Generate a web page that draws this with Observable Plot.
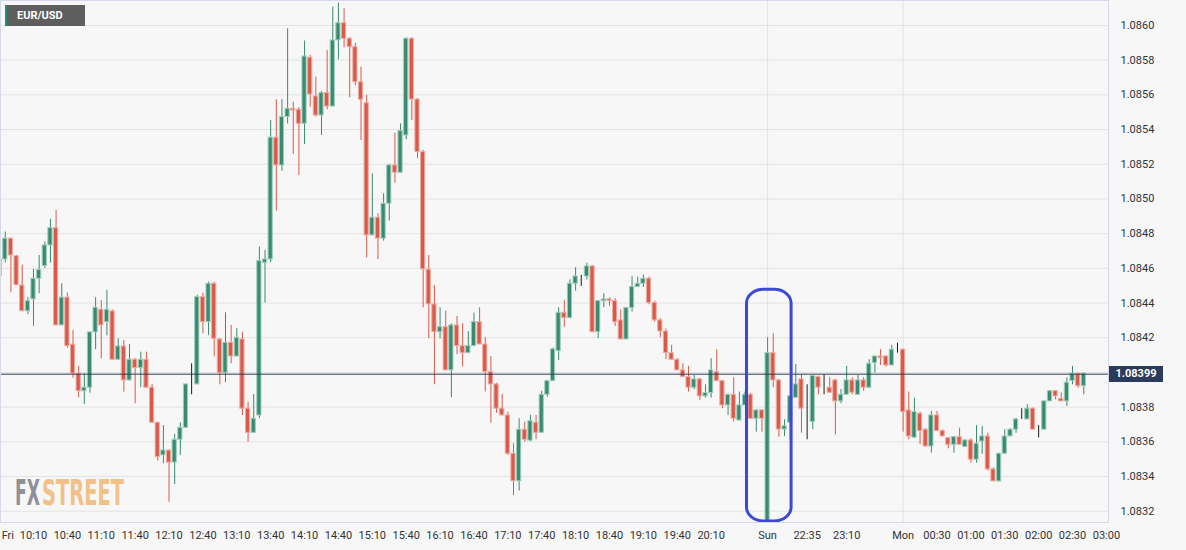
<!DOCTYPE html>
<html><head><meta charset="utf-8">
<script src="https://cdn.jsdelivr.net/npm/d3@7"></script>
<script src="https://cdn.jsdelivr.net/npm/@observablehq/plot@0.6"></script>
<style>
html,body{margin:0;padding:0;background:#f7f7f7;}
#wrap{position:relative;width:1186px;height:550px;overflow:hidden;background:#f7f7f7;font-family:Roboto,"Liberation Sans",sans-serif;}
#wrap svg{display:block;}
.ov{position:absolute;box-sizing:border-box;}
</style></head><body><div id="wrap"></div>
<script>
// 5-minute candles, first one is index -6 (09:40 Fri); index 0 = 10:10
const firstIndex = -6;
const opens = [
1.084553,1.084651,1.084771,1.084670,1.084501,1.084353,1.084421,1.084540,1.084613,1.084732,
1.084832,1.084271,1.084431,1.084160,1.083993,1.083892,1.083912,1.084231,1.084361,1.084290,
1.084352,1.084073,1.084150,1.083954,1.084073,1.084025,1.084073,1.083912,1.083710,1.083522,
1.083550,1.083480,1.083612,1.083681,1.083931,1.083931,1.084434,1.084290,1.084511,1.084190,
1.083996,1.084171,1.084092,1.084190,1.083791,1.083652,1.083752,1.084632,1.084651,1.085353,
1.085193,1.085472,1.085520,1.085514,1.085433,1.085814,1.085591,1.085481,1.085610,1.085533,
1.085914,1.086013,1.085923,1.085875,1.085673,1.085552,1.084790,1.084892,1.084771,1.084972,
1.085193,1.085151,1.085366,1.085923,1.085573,1.085270,1.084592,1.084392,1.084232,1.084261,
1.084012,1.084271,1.084152,1.084111,1.084152,1.084290,1.084161,1.084002,1.083931,1.083791,
1.083752,1.083531,1.083373,1.083670,1.083607,1.083710,1.083652,1.083871,1.083950,1.084123,
1.084344,1.084313,1.084511,1.084553,1.084553,1.084611,1.084232,1.084411,1.084421,1.084411,
1.084300,1.084190,1.084371,1.084492,1.084511,1.084540,1.084400,1.084300,1.084236,1.084111,
1.084073,1.084012,1.083973,1.083912,1.083960,1.083862,1.083881,1.084002,1.083950,1.083810,
1.083871,1.083723,1.083810,1.083871,1.083733,1.083781,1.083130,1.084111,1.083954,1.083671,
1.083710,1.083854,1.083960,1.083768,1.083714,1.083973,1.083910,1.083912,1.083954,1.083833,
1.083871,1.083954,1.083871,1.083954,1.083912,1.084054,1.084092,1.084092,1.084040,1.084127,
1.084131,1.083781,1.083624,1.083762,1.083670,1.083573,1.083752,1.083662,1.083621,1.083583,
1.083627,1.083570,1.083608,1.083497,1.083602,1.083631,1.083441,1.083372,1.083531,1.083631,
1.083670,1.083729,1.083729,1.083791,1.083670,1.083670,1.083833,1.083892,1.083848,1.083833,
1.083950,1.083993,1.083921,1.083990];
const highs = [
1.084650,1.084809,1.084775,1.084675,1.084617,1.084431,1.084594,1.084674,1.084751,1.084882,
1.084934,1.084511,1.084459,1.084242,1.084035,1.083993,1.084231,1.084431,1.084415,1.084473,
1.084360,1.084194,1.084184,1.084161,1.084080,1.084117,1.084117,1.083931,1.083710,1.083694,
1.083550,1.083643,1.083710,1.083931,1.084050,1.084445,1.084457,1.084520,1.084520,1.084194,
1.084344,1.084271,1.084252,1.084232,1.083829,1.083873,1.084722,1.084703,1.085452,1.085572,
1.085572,1.085981,1.085558,1.085526,1.085910,1.085827,1.085702,1.085620,1.085856,1.086106,
1.086129,1.086096,1.085930,1.085898,1.085760,1.085597,1.085145,1.084915,1.085030,1.085200,
1.085379,1.085433,1.085930,1.085930,1.085580,1.085280,1.084674,1.084501,1.084373,1.084353,
1.084280,1.084323,1.084281,1.084236,1.084342,1.084373,1.084200,1.084092,1.083938,1.083873,
1.083771,1.083589,1.083733,1.083714,1.083752,1.083752,1.083892,1.083955,1.084140,1.084373,
1.084415,1.084534,1.084604,1.084560,1.084630,1.084615,1.084415,1.084454,1.084430,1.084425,
1.084361,1.084375,1.084553,1.084549,1.084562,1.084550,1.084410,1.084310,1.084250,1.084156,
1.084080,1.084050,1.084035,1.083983,1.083965,1.083929,1.084079,1.084131,1.083955,1.083875,
1.083969,1.083887,1.083887,1.083880,1.083785,1.083785,1.084200,1.084223,1.083960,1.083727,
1.083862,1.084046,1.083988,1.083929,1.083980,1.083979,1.083988,1.083969,1.083960,1.083902,
1.084035,1.083969,1.083983,1.083969,1.084073,1.084095,1.084131,1.084095,1.084156,1.084169,
1.084135,1.083887,1.083852,1.083771,1.083675,1.083775,1.083775,1.083670,1.083625,1.083630,
1.083679,1.083610,1.083618,1.083694,1.083689,1.083650,1.083450,1.083535,1.083670,1.083675,
1.083735,1.083791,1.083814,1.083795,1.083694,1.083835,1.083895,1.083895,1.083883,1.083969,
1.084035,1.083995,1.083995,1.083990];
const lows = [
1.084473,1.084632,1.084459,1.084500,1.084350,1.084333,1.084267,1.084454,1.084600,1.084630,
1.084271,1.084270,1.084140,1.083967,1.083854,1.083816,1.083881,1.084131,1.084079,1.084211,
1.084070,1.084070,1.083886,1.083950,1.083820,1.083912,1.083910,1.083710,1.083489,1.083474,
1.083252,1.083354,1.083522,1.083680,1.083871,1.083930,1.084223,1.084213,1.084090,1.083929,
1.083941,1.084050,1.084090,1.083752,1.083598,1.083650,1.083733,1.084400,1.084632,1.084930,
1.085160,1.085433,1.085256,1.085135,1.085314,1.085529,1.085472,1.085366,1.085514,1.085530,
1.085802,1.085871,1.085583,1.085654,1.085337,1.084661,1.084790,1.084650,1.084757,1.084872,
1.085091,1.085150,1.085341,1.085452,1.085232,1.084373,1.084194,1.083929,1.084194,1.084010,
1.083854,1.084102,1.084031,1.084110,1.084150,1.084160,1.083887,1.083708,1.083765,1.083750,
1.083522,1.083291,1.083316,1.083598,1.083600,1.083612,1.083650,1.083858,1.083950,1.084069,
1.084261,1.084310,1.084469,1.084496,1.084534,1.084230,1.084194,1.084373,1.084380,1.084265,
1.084190,1.084190,1.084348,1.084490,1.084490,1.084390,1.084290,1.084200,1.084073,1.084070,
1.084010,1.083970,1.083887,1.083900,1.083839,1.083852,1.083852,1.083950,1.083791,1.083752,
1.083714,1.083720,1.083810,1.083730,1.083656,1.083656,1.083130,1.083912,1.083627,1.083631,
1.083612,1.083850,1.083650,1.083612,1.083670,1.083871,1.083871,1.083880,1.083640,1.083820,
1.083870,1.083871,1.083870,1.083892,1.083910,1.083996,1.084040,1.084031,1.084040,1.084111,
1.083656,1.083612,1.083620,1.083585,1.083570,1.083535,1.083660,1.083630,1.083560,1.083535,
1.083580,1.083570,1.083477,1.083477,1.083527,1.083431,1.083370,1.083370,1.083530,1.083630,
1.083650,1.083729,1.083729,1.083670,1.083623,1.083670,1.083833,1.083843,1.083833,1.083804,
1.083929,1.083910,1.083871,1.083990];
const closes = [
1.084650,1.084771,1.084674,1.084503,1.084353,1.084411,1.084540,1.084590,1.084732,1.084832,
1.084271,1.084431,1.084152,1.083993,1.083892,1.083912,1.084231,1.084373,1.084271,1.084361,
1.084073,1.084150,1.083954,1.084073,1.084025,1.084073,1.083912,1.083710,1.083512,1.083550,
1.083480,1.083612,1.083681,1.083931,1.083931,1.084434,1.084290,1.084511,1.084194,1.083996,
1.084171,1.084092,1.084200,1.083791,1.083652,1.083733,1.084642,1.084651,1.085353,1.085193,
1.085472,1.085520,1.085510,1.085433,1.085821,1.085602,1.085481,1.085610,1.085533,1.085914,
1.086013,1.085923,1.085875,1.085673,1.085572,1.084790,1.084892,1.084771,1.084972,1.085193,
1.085151,1.085391,1.085923,1.085573,1.085270,1.084594,1.084392,1.084232,1.084261,1.084012,
1.084271,1.084152,1.084111,1.084152,1.084290,1.084161,1.084002,1.083931,1.083791,1.083752,
1.083531,1.083373,1.083670,1.083612,1.083719,1.083652,1.083871,1.083950,1.084133,1.084344,
1.084313,1.084511,1.084553,1.084553,1.084611,1.084232,1.084411,1.084421,1.084411,1.084290,
1.084190,1.084371,1.084492,1.084511,1.084540,1.084400,1.084300,1.084236,1.084111,1.084073,
1.084012,1.083973,1.083912,1.083960,1.083862,1.083881,1.084012,1.083950,1.083810,1.083871,
1.083733,1.083810,1.083871,1.083733,1.083781,1.083733,1.084111,1.083954,1.083671,1.083690,
1.083862,1.083931,1.083791,1.083768,1.083979,1.083912,1.083910,1.083883,1.083833,1.083871,
1.083954,1.083883,1.083954,1.083912,1.084050,1.084092,1.084082,1.084040,1.084131,1.084127,
1.083771,1.083631,1.083771,1.083662,1.083573,1.083752,1.083662,1.083631,1.083583,1.083627,
1.083583,1.083608,1.083497,1.083589,1.083631,1.083441,1.083372,1.083531,1.083631,1.083670,
1.083729,1.083729,1.083791,1.083670,1.083670,1.083833,1.083892,1.083862,1.083833,1.083941,
1.083993,1.083921,1.083993,1.083990];

const lastPrice = 1.08399;
const gridPrices = [1.0832,1.0834,1.0836,1.0838,1.0840,1.0842,1.0844,1.0846,1.0848,1.0850,1.0852,1.0854,1.0856,1.0858,1.0860];
// 1.0840 label sits under the last-price tag in the reference, so it is not printed
const priceTickLabels = [1.0832,1.0834,1.0836,1.0838,1.0842,1.0844,1.0846,1.0848,1.0850,1.0852,1.0854,1.0856,1.0858,1.0860];
const timeTickIndex = [-4.55,0,6,12,18,24,30,36,42,48,54,60,66,72,78,84,90,96,102,108,114,120,130,137,144,154,160,166,172,178,184,190];
const timeTickLabels = ["Fri","10:10","10:40","11:10","11:40","12:10","12:40","13:10","13:40","14:10","14:40","15:10","15:40","16:10","16:40","17:10","17:40","18:10","18:40","19:10","19:40","20:10","Sun","22:35","23:10","Mon","00:30","01:00","01:30","02:00","02:30","03:00"];
const dayBreakIndex = [130, 154];
const highlight = [{x1: 126.35, x2: 134.25, y1: 1.083141, y2: 1.084476}];

const G = "#388a71", GL = "#9fcdbb", R = "#d85a4a", RL = "#efaba2", K = "#1c1c1c";
const bars = opens.map((o, k) => ({i: firstIndex + k, o, h: highs[k], l: lows[k], c: closes[k]}));
const fillOf = d => d.c > d.o ? G : d.c < d.o ? R : K;
const edgeOf = d => d.c > d.o ? GL : d.c < d.o ? RL : K;
const labelMap = new Map(timeTickIndex.map((v, k) => [v, timeTickLabels[k]]));

const chart = Plot.plot({
  width: 1186, height: 550,
  marginLeft: 0, marginRight: 78, marginTop: 0, marginBottom: 28,
  style: {background: "transparent", fontFamily: "Roboto, 'Liberation Sans', sans-serif", fontSize: "11px", color: "#333"},
  x: {type: "linear", domain: [-5.844, 190.37]},
  y: {domain: [1.083135, 1.086144]},
  marks: [
    Plot.ruleY(gridPrices, {stroke: "#e3e3e3", strokeWidth: 1}),
    Plot.ruleX(dayBreakIndex, {stroke: "#e3e3e3", strokeWidth: 1}),
    Plot.ruleX(bars, {x: "i", y1: "l", y2: "h", stroke: fillOf, strokeWidth: 1, clip: true}),
    Plot.rect(bars, {x1: d => d.i - 0.37, x2: d => d.i + 0.37, y1: d => Math.min(d.o, d.c), y2: d => Math.max(d.o, d.c), fill: fillOf, stroke: edgeOf, strokeWidth: 1, clip: true}),
    Plot.ruleY([lastPrice], {stroke: "#2b3b5c", strokeWidth: 1}),
    Plot.rect(highlight, {x1: "x1", x2: "x2", y1: "y1", y2: "y2", fill: "none", stroke: "#3d49d3", strokeWidth: 3, rx: 17, ry: 14}),
    Plot.frame({stroke: "#d6dae8"}),
    Plot.axisY(priceTickLabels, {anchor: "right", tickSize: 0, tickPadding: 12, tickFormat: d3.format(".4f"), label: null, fill: "#333"}),
    Plot.axisX(timeTickIndex, {anchor: "bottom", tickSize: 0, tickPadding: 9, tickFormat: d => labelMap.get(d), label: null, fill: "#333"})
  ]
});
const wrap = document.getElementById("wrap");
wrap.appendChild(chart);

const yS = chart.scale("y");
const py = yS.apply(lastPrice);
const tag = document.createElement("div");
tag.className = "ov";
tag.style.cssText = `left:1109px;top:${py - 8}px;width:54px;height:16px;background:#2b3b5c;color:#fff;font:bold 11px Roboto,'Liberation Sans',sans-serif;line-height:16px;text-align:center;`;
tag.textContent = d3.format(".5f")(lastPrice);
wrap.appendChild(tag);

const sym = document.createElement("div");
sym.className = "ov";
sym.style.cssText = "left:5px;top:5px;width:80px;height:21px;background:#5e5e5e;border-left:2px solid #2f8a6d;color:#fff;font:bold 11px Roboto,'Liberation Sans',sans-serif;line-height:21px;padding-left:10px;";
sym.textContent = "EUR/USD";
wrap.appendChild(sym);

// FXSTREET watermark: each word squeezed horizontally to its width in the reference
const logo = document.createElementNS("http://www.w3.org/2000/svg", "svg");
logo.setAttribute("width", "150"); logo.setAttribute("height", "56");
logo.setAttribute("class", "ov");
logo.style.left = "0px"; logo.style.top = "462px";
wrap.appendChild(logo);
const logoParts = [{t: "FX", x: 15, w: 25, fill: "#8e9197"}, {t: "STREET", x: 42, w: 82, fill: "#f2c187"}];
for (const p of logoParts) {
  const g = document.createElementNS("http://www.w3.org/2000/svg", "g");
  const t = document.createElementNS("http://www.w3.org/2000/svg", "text");
  t.setAttribute("font-family", "'DejaVu Sans Condensed','Liberation Sans Narrow',sans-serif");
  t.setAttribute("font-weight", "bold");
  t.setAttribute("font-size", "36");
  t.setAttribute("fill", p.fill);
  t.textContent = p.t;
  g.appendChild(t);
  logo.appendChild(g);
  const w = t.getComputedTextLength() || p.w;
  g.setAttribute("transform", `translate(${p.x},43) scale(${p.w / w},1)`);
}
</script></body></html>
